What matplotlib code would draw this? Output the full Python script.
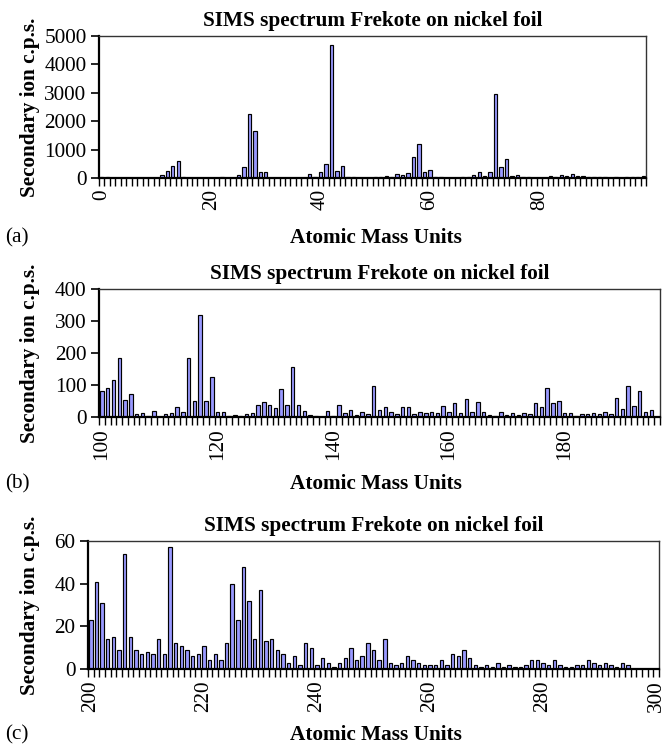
import numpy as np
import matplotlib
matplotlib.use("Agg")
import matplotlib.pyplot as plt

plt.rcParams['font.family'] = ['Liberation Serif', 'DejaVu Serif']

title_text = "SIMS spectrum Frekote on nickel foil"
xlabel_text = "Atomic Mass Units"
ylabel_text = "Secondary ion c.p.s."
panel_tags = ["(a)", "(b)", "(c)"]

# Panel (a): masses 0..99
mass_a = list(range(0, 100))
counts_a = [20, 20, 0, 0, 0, 0, 0, 0, 0, 0,
            0, 120, 235, 435, 590, 20, 0, 0, 0, 0,
            0, 0, 20, 0, 0, 120, 390, 2250, 1650, 225,
            200, 0, 15, 0, 0, 0, 0, 15, 130, 30,
            225, 495, 4700, 260, 425, 30, 20, 0, 0, 0,
            35, 20, 60, 35, 130, 105, 190, 750, 1200, 200,
            270, 20, 20, 0, 10, 10, 45, 20, 95, 200,
            70, 200, 2950, 400, 670, 70, 120, 20, 30, 15,
            15, 15, 70, 30, 95, 70, 140, 60, 80, 25,
            45, 25, 25, 10, 25, 10, 25, 25, 30, 80]
ticks_a = [0, 20, 40, 60, 80]
yticks_a = [0, 1000, 2000, 3000, 4000, 5000]

# Panel (b): masses 100..196
mass_b = list(range(100, 197))
counts_b = [80, 91, 117, 183, 54, 72, 9, 12, 2, 19,
            1, 8, 14, 31, 17, 185, 49, 318, 51, 125,
            17, 17, 4, 7, 3, 8, 12, 39, 47, 39,
            27, 86, 36, 156, 39, 18, 7, 3, 1, 20,
            4, 39, 11, 21, 6, 15, 8, 96, 21, 32,
            15, 8, 32, 30, 10, 17, 14, 15, 11, 34,
            17, 44, 14, 55, 15, 47, 17, 6, 3, 17,
            6, 11, 5, 11, 9, 43, 30, 90, 43, 50,
            11, 11, 3, 8, 9, 12, 8, 15, 10, 60,
            25, 96, 34, 80, 16, 21, 0]
ticks_b = [100, 120, 140, 160, 180]
yticks_b = [0, 100, 200, 300, 400]

# Panel (c): masses 200..300
mass_c = list(range(200, 301))
counts_c = [23, 41, 31, 14, 15, 9, 54, 15, 9, 7,
            8, 7, 14, 7, 57, 12, 11, 9, 6, 7,
            11, 4, 7, 4, 12, 40, 23, 48, 32, 14,
            37, 13, 14, 9, 7, 3, 6, 2, 12, 10,
            2, 5, 3, 1, 3, 5, 10, 4, 6, 12,
            9, 4, 14, 3, 2, 3, 6, 4, 3, 2,
            2, 2, 4, 2, 7, 6, 9, 5, 2, 1,
            2, 1, 3, 1, 2, 1, 1, 2, 4, 4,
            3, 2, 4, 2, 1, 1, 2, 2, 4, 3,
            2, 3, 2, 1, 3, 2, 0, 0, 0, 0, 0]
ticks_c = [200, 220, 240, 260, 280, 300]
yticks_c = [0, 20, 40, 60]

W, H = 665, 746
fig = plt.figure(figsize=(W / 100, H / 100), dpi=100)

# (left, right, top, bottom) in pixels
boxes = [(99, 646, 36, 178), (99, 660, 289, 417), (88, 659, 541, 669)]
xlabel_y = [238, 484, 735]

FS = 15.3
bar_color = '#9999ff'

panels = [(mass_a, counts_a, ticks_a, yticks_a),
          (mass_b, counts_b, ticks_b, yticks_b),
          (mass_c, counts_c, ticks_c, yticks_c)]

for i, ((masses, counts, xt, yt), (l, r, t, b)) in enumerate(zip(panels, boxes)):
    ax = fig.add_axes([l / W, 1 - b / H, (r - l) / W, (b - t) / H])
    x0 = masses[0]
    pos = np.array(masses) - x0
    ax.bar(pos, counts, width=0.6, color=bar_color, edgecolor='black', linewidth=0.85)
    ax.set_xlim(-0.5, len(masses) - 0.5)
    ax.set_ylim(yt[0], yt[-1])
    ax.set_yticks(yt)
    ax.set_yticklabels([str(v) for v in yt], fontsize=FS)
    ax.set_xticks([v - x0 for v in xt])
    ax.set_xticklabels([str(v) for v in xt], rotation=90, fontsize=FS)
    ax.set_xticks(np.arange(len(masses) + 1) - 0.5, minor=True)
    ax.tick_params(axis='x', which='major', length=0, pad=8)
    ax.tick_params(axis='x', which='minor', length=6, width=1.0, direction='out')
    ax.tick_params(axis='y', which='major', length=6, width=1.2, pad=3)
    for s in ['left', 'bottom']:
        ax.spines[s].set_linewidth(1.6)
        ax.spines[s].set_color('black')
    for s in ['top', 'right']:
        ax.spines[s].set_linewidth(1.0)
        ax.spines[s].set_color('#333333')
    ax.set_title(title_text, fontsize=FS, fontweight='bold', pad=7)
    fig.text(30 / W, 1 - ((t + b) / 2) / H, ylabel_text, rotation=90,
             ha='center', va='center', fontsize=FS, fontweight='bold')
    fig.text(376 / W, 1 - xlabel_y[i] / H, xlabel_text, ha='center', va='center',
             fontsize=FS, fontweight='bold')
    fig.text(5 / W, 1 - xlabel_y[i] / H, panel_tags[i], ha='left', va='center',
             fontsize=FS)

fig.savefig("out.png", dpi=100)
